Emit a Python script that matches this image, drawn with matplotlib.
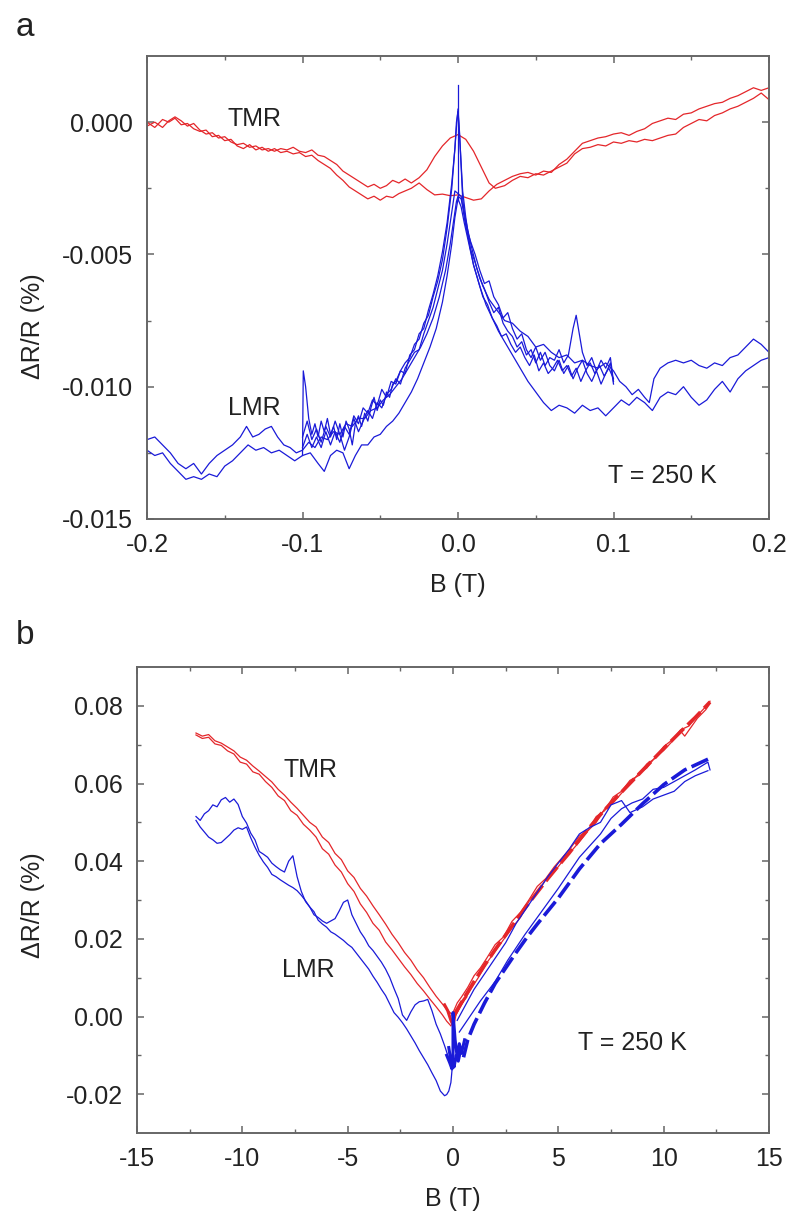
import matplotlib
matplotlib.use("Agg")
import matplotlib.pyplot as plt
from matplotlib.ticker import MultipleLocator, FixedLocator, FormatStrFormatter
import numpy as np

plt.rcParams['font.family'] = ['Liberation Sans', 'DejaVu Sans']
plt.rcParams['axes.unicode_minus'] = False

# ---------------- Panel a data (B in T, dR/R in units of 1e-3 %) ----------------
tmr_a_b = [-0.200, -0.195, -0.190, -0.186, -0.182, -0.178, -0.174, -0.170, -0.166, -0.162,
           -0.158, -0.154, -0.150, -0.146, -0.142, -0.138, -0.134, -0.130, -0.126, -0.122,
           -0.118, -0.114, -0.110, -0.106, -0.102, -0.098, -0.094, -0.090, -0.086, -0.082,
           -0.078, -0.074, -0.070, -0.066, -0.062, -0.058, -0.054, -0.050, -0.046, -0.042,
           -0.038, -0.034, -0.030, -0.025, -0.020, -0.015, -0.010, -0.005, 0.000, 0.005,
           0.010, 0.015, 0.020, 0.024, 0.030, 0.035, 0.040, 0.045, 0.050, 0.055,
           0.060, 0.065, 0.070, 0.075, 0.080, 0.085, 0.090, 0.095, 0.100, 0.105,
           0.110, 0.115, 0.120, 0.125, 0.130, 0.135, 0.140, 0.145, 0.150, 0.155,
           0.160, 0.165, 0.170, 0.175, 0.180, 0.185, 0.190, 0.195, 0.200]
tmr_a_milli = [-0.15, 0.0, -0.2, 0.05, 0.2, 0.05, -0.15, -0.05, -0.3, -0.45,
               -0.4, -0.6, -0.55, -0.75, -0.85, -0.8, -0.95, -0.9, -1.05, -1.0,
               -1.1, -1.0, -1.05, -0.95, -1.1, -1.15, -1.05, -1.25, -1.3, -1.45,
               -1.6, -1.85, -2.0, -2.15, -2.3, -2.45, -2.35, -2.5, -2.4, -2.2,
               -2.3, -2.15, -2.3, -2.1, -1.8, -1.3, -0.9, -0.6, -0.47, -0.65,
               -1.1, -1.7, -2.3, -2.5, -2.4, -2.2, -2.05, -2.1, -1.95, -2.0,
               -1.85, -1.7, -1.55, -1.2, -1.0, -0.95, -0.85, -0.9, -0.75, -0.8,
               -0.7, -0.75, -0.65, -0.7, -0.6, -0.5, -0.45, -0.2, -0.05, 0.1,
               0.05, 0.25, 0.35, 0.5, 0.6, 0.75, 0.9, 1.1, 0.85]

tmr_b_b = [-0.200, -0.195, -0.190, -0.186, -0.182, -0.178, -0.174, -0.170, -0.166, -0.162,
           -0.158, -0.154, -0.150, -0.146, -0.142, -0.138, -0.134, -0.130, -0.126, -0.122,
           -0.118, -0.114, -0.110, -0.106, -0.102, -0.098, -0.094, -0.090, -0.086, -0.082,
           -0.078, -0.074, -0.070, -0.066, -0.062, -0.058, -0.054, -0.050, -0.046, -0.042,
           -0.038, -0.034, -0.030, -0.025, -0.020, -0.015, -0.010, -0.005, 0.000, 0.005,
           0.010, 0.015, 0.020, 0.025, 0.030, 0.035, 0.040, 0.045, 0.050, 0.055,
           0.060, 0.065, 0.070, 0.075, 0.080, 0.085, 0.090, 0.095, 0.100, 0.105,
           0.110, 0.115, 0.120, 0.125, 0.130, 0.135, 0.140, 0.145, 0.150, 0.155,
           0.160, 0.165, 0.170, 0.175, 0.180, 0.185, 0.190, 0.195, 0.200]
tmr_b_milli = [0.0, -0.2, 0.1, 0.0, 0.15, -0.1, -0.05, -0.25, -0.35, -0.3,
               -0.55, -0.5, -0.7, -0.65, -0.9, -1.0, -0.85, -1.05, -0.95, -1.1,
               -1.0, -1.15, -1.1, -1.2, -1.15, -1.3, -1.25, -1.45, -1.6, -1.75,
               -2.0, -2.2, -2.45, -2.6, -2.75, -2.9, -2.8, -2.95, -2.8, -2.85,
               -2.7, -2.6, -2.5, -2.3, -2.55, -2.75, -2.72, -2.78, -2.75, -2.85,
               -2.95, -2.9, -2.6, -2.35, -2.2, -2.05, -1.95, -1.9, -2.0, -1.85,
               -1.9, -1.6, -1.4, -1.1, -0.8, -0.7, -0.6, -0.55, -0.45, -0.4,
               -0.5, -0.35, -0.25, -0.05, 0.05, 0.15, 0.1, 0.3, 0.35, 0.5,
               0.6, 0.7, 0.75, 0.9, 1.0, 1.15, 1.3, 1.2, 1.3]

lmr_long1_b = [-0.200, -0.195, -0.190, -0.185, -0.180, -0.175, -0.170, -0.165, -0.160, -0.155,
               -0.150, -0.145, -0.140, -0.136, -0.132, -0.128, -0.124, -0.120, -0.116, -0.112,
               -0.108, -0.104, -0.100, -0.096, -0.092, -0.088, -0.084, -0.080, -0.076, -0.072,
               -0.068, -0.064, -0.060, -0.056, -0.052, -0.048, -0.044, -0.040, -0.036, -0.032,
               -0.028, -0.024, -0.020, -0.016, -0.012, -0.008, -0.005, -0.003, -0.001, 0.000,
               0.002, 0.004, 0.006, 0.009, 0.012, 0.016, 0.020, 0.025, 0.030, 0.035,
               0.040, 0.045, 0.050, 0.055, 0.060, 0.065, 0.070, 0.075, 0.080, 0.085,
               0.090, 0.095, 0.100, 0.104, 0.108, 0.112, 0.116, 0.120, 0.123, 0.126,
               0.130, 0.135, 0.140, 0.145, 0.150, 0.155, 0.160, 0.165, 0.170, 0.175,
               0.180, 0.185, 0.190, 0.195, 0.200]
lmr_long1_milli = [-12.0, -11.9, -12.2, -12.5, -12.9, -13.1, -12.9, -13.3, -12.9, -12.6,
                   -12.4, -12.2, -11.9, -11.5, -11.9, -11.8, -11.6, -11.5, -11.9, -12.2,
                   -12.3, -12.5, -12.4, -12.1, -12.3, -11.9, -12.0, -11.7, -11.8, -11.4,
                   -11.5, -11.2, -11.2, -10.9, -10.8, -10.5, -10.3, -10.0, -9.7, -9.3,
                   -8.9, -8.5, -8.0, -7.4, -6.6, -5.6, -4.6, -3.8, -3.0, -2.8,
                   -2.9, -3.4, -4.0, -4.8, -5.5, -6.2, -6.7, -7.1, -7.5, -7.6,
                   -7.9, -8.1, -8.5, -8.4, -8.7, -8.9, -8.8, -9.1, -9.0, -9.2,
                   -9.3, -9.1, -9.4, -9.8, -10.0, -10.3, -10.1, -10.4, -10.6, -9.7,
                   -9.3, -9.1, -9.0, -9.1, -9.0, -9.2, -9.3, -9.1, -9.2, -8.9,
                   -8.8, -8.5, -8.2, -8.4, -8.7]

lmr_long2_b = [-0.200, -0.195, -0.190, -0.185, -0.180, -0.175, -0.170, -0.165, -0.160, -0.155,
               -0.150, -0.145, -0.140, -0.135, -0.130, -0.125, -0.120, -0.115, -0.110, -0.105,
               -0.100, -0.095, -0.090, -0.086, -0.082, -0.078, -0.074, -0.070, -0.066, -0.062,
               -0.058, -0.054, -0.050, -0.046, -0.042, -0.038, -0.034, -0.030, -0.026, -0.022,
               -0.018, -0.014, -0.010, -0.007, -0.004, -0.002, 0.000, 0.002, 0.004, 0.007,
               0.010, 0.014, 0.018, 0.022, 0.026, 0.030, 0.035, 0.040, 0.045, 0.050,
               0.055, 0.060, 0.065, 0.070, 0.075, 0.080, 0.085, 0.090, 0.095, 0.100,
               0.105, 0.110, 0.115, 0.120, 0.125, 0.130, 0.135, 0.140, 0.145, 0.150,
               0.155, 0.160, 0.165, 0.170, 0.175, 0.180, 0.185, 0.190, 0.195, 0.200]
lmr_long2_milli = [-12.4, -12.6, -12.5, -12.9, -13.2, -13.5, -13.4, -13.5, -13.3, -13.4,
                   -13.0, -12.8, -12.5, -12.2, -12.4, -12.3, -12.5, -12.4, -12.6, -12.8,
                   -12.6, -12.5, -12.9, -13.2, -12.6, -12.4, -12.5, -13.1, -12.6, -12.2,
                   -12.2, -11.9, -11.8, -11.5, -11.3, -11.0, -10.6, -10.2, -9.7, -9.1,
                   -8.5, -7.8, -6.8, -5.8, -4.6, -3.6, -2.9, -3.2, -3.8, -4.6,
                   -5.4, -6.2, -6.9, -7.4, -7.9, -8.3, -8.8, -9.3, -9.8, -10.2,
                   -10.6, -10.9, -10.7, -10.8, -11.0, -10.7, -10.9, -10.8, -11.1, -10.8,
                   -10.5, -10.7, -10.4, -10.6, -10.9, -10.4, -10.2, -10.3, -10.0, -10.4,
                   -10.7, -10.5, -10.1, -9.8, -10.2, -9.7, -9.4, -9.2, -9.0, -8.9]

lmr_short1_b = [-0.100, -0.0995, -0.098, -0.096, -0.094, -0.092, -0.090, -0.088, -0.086, -0.084,
                -0.082, -0.080, -0.078, -0.076, -0.074, -0.072, -0.070, -0.068, -0.066, -0.064,
                -0.062, -0.060, -0.058, -0.056, -0.054, -0.052, -0.050, -0.048, -0.046, -0.044,
                -0.042, -0.040, -0.037, -0.034, -0.031, -0.028, -0.025, -0.022, -0.019, -0.016,
                -0.013, -0.010, -0.007, -0.004, -0.002, -0.001, 0.000, 0.001, 0.003, 0.005,
                0.008, 0.011, 0.014, 0.017, 0.020, 0.023, 0.026, 0.029, 0.032, 0.035,
                0.038, 0.041, 0.044, 0.047, 0.050, 0.053, 0.056, 0.059, 0.062, 0.065,
                0.068, 0.071, 0.074, 0.076, 0.078, 0.080, 0.083, 0.086, 0.089, 0.092,
                0.095, 0.098, 0.100]
lmr_short1_milli = [-12.6, -9.4, -10.0, -11.2, -11.8, -11.4, -11.9, -11.3, -11.7, -11.2,
                    -11.8, -11.5, -12.0, -11.4, -11.9, -11.3, -11.6, -12.2, -11.4, -11.1,
                    -11.5, -11.0, -11.3, -10.8, -10.4, -10.9, -10.5, -10.7, -10.2, -10.4,
                    -9.9, -9.8, -9.4, -9.1, -8.9, -8.4, -8.2, -7.6, -7.3, -6.6,
                    -6.0, -5.2, -4.0, -2.5, -1.0, 0.0, 0.4, -0.5, -2.6, -3.6,
                    -4.8, -5.3, -5.9, -6.3, -6.8, -7.2, -7.0, -7.6, -7.9, -8.1,
                    -8.5, -8.3, -8.8, -8.6, -9.1, -8.7, -9.2, -8.9, -9.0, -8.6,
                    -9.1, -8.8, -7.8, -7.3, -8.0, -8.7, -9.2, -8.9, -9.4, -9.0,
                    -9.3, -8.9, -9.8]

lmr_short2_b = [-0.100, -0.097, -0.094, -0.091, -0.088, -0.085, -0.082, -0.079, -0.076, -0.073,
                -0.070, -0.067, -0.064, -0.061, -0.058, -0.055, -0.052, -0.049, -0.046, -0.043,
                -0.040, -0.037, -0.034, -0.031, -0.028, -0.025, -0.022, -0.019, -0.016, -0.013,
                -0.010, -0.007, -0.004, -0.002, 0.000, 0.002, 0.004, 0.007, 0.010, 0.013,
                0.016, 0.019, 0.022, 0.025, 0.028, 0.031, 0.034, 0.037, 0.040, 0.043,
                0.046, 0.049, 0.052, 0.055, 0.058, 0.061, 0.064, 0.067, 0.070, 0.073,
                0.076, 0.079, 0.082, 0.085, 0.088, 0.091, 0.094, 0.097, 0.100]
lmr_short2_milli = [-11.9, -11.3, -12.0, -11.6, -12.1, -11.5, -11.9, -11.3, -11.8, -12.4,
                    -11.9, -11.2, -11.7, -11.3, -10.9, -11.2, -10.6, -10.8, -10.3, -10.1,
                    -9.7, -9.9, -9.3, -9.0, -8.7, -8.6, -8.0, -7.5, -7.0, -6.3,
                    -5.6, -4.6, -3.4, -2.6, -2.7, -2.8, -3.6, -4.5, -5.4, -6.0,
                    -6.6, -6.9, -7.4, -7.7, -8.1, -8.0, -8.4, -8.7, -8.5, -8.9,
                    -9.2, -8.8, -9.4, -9.1, -9.5, -9.3, -9.0, -9.4, -9.2, -9.6,
                    -9.3, -9.8, -9.4, -9.1, -9.5, -9.2, -9.6, -9.3, -9.7]

lmr_short3_b = [-0.100, -0.097, -0.094, -0.091, -0.088, -0.085, -0.082, -0.079, -0.076, -0.073,
                -0.070, -0.067, -0.064, -0.061, -0.058, -0.055, -0.052, -0.049, -0.046, -0.043,
                -0.040, -0.037, -0.034, -0.031, -0.028, -0.025, -0.022, -0.019, -0.016, -0.013,
                -0.010, -0.007, -0.004, -0.002, -0.001, 0.000, 0.001, 0.003, 0.005, 0.008,
                0.011, 0.014, 0.017, 0.020, 0.023, 0.026, 0.029, 0.032, 0.035, 0.038,
                0.041, 0.044, 0.047, 0.050, 0.053, 0.056, 0.059, 0.062, 0.065, 0.068,
                0.071, 0.074, 0.077, 0.080, 0.083, 0.086, 0.089, 0.092, 0.095, 0.098, 0.100]
lmr_short3_milli = [-12.3, -11.8, -12.3, -11.9, -12.3, -11.7, -12.2, -11.7, -12.1, -11.5,
                    -11.8, -11.1, -11.4, -10.8, -11.0, -10.5, -10.7, -10.1, -10.4, -9.8,
                    -9.9, -9.4, -9.5, -8.8, -8.6, -8.0, -7.8, -7.1, -6.5, -5.8,
                    -4.9, -3.8, -2.3, -1.0, -0.2, 0.5, -0.4, -2.9, -3.9, -4.5,
                    -5.0, -5.6, -6.1, -6.0, -6.6, -6.9, -7.4, -7.2, -7.8, -8.2,
                    -8.0, -8.6, -8.9, -8.5, -9.0, -8.7, -9.2, -9.4, -9.0, -9.5,
                    -9.2, -9.7, -9.3, -9.0, -9.5, -9.8, -9.4, -9.9, -9.5, -9.1, -9.9]

lmr_spike_b = [0.0, 0.0]
lmr_spike_milli = [-2.9, 1.4]

# ---------------- Panel b data (B in T, dR/R in %) ----------------
tmr_left1_b = [-12.2, -11.9, -11.6, -11.3, -11.0, -10.7, -10.4, -10.1, -9.8, -9.5,
               -9.2, -8.9, -8.6, -8.3, -8.0, -7.7, -7.4, -7.1, -6.8, -6.5,
               -6.2, -5.9, -5.6, -5.3, -5.0, -4.7, -4.4, -4.1, -3.8, -3.5,
               -3.2, -2.9, -2.6, -2.3, -2.0, -1.7, -1.4, -1.1, -0.8, -0.5, -0.3, -0.1]
tmr_left1_v = [0.0725, 0.0716, 0.0719, 0.0702, 0.0698, 0.0684, 0.0676, 0.0655, 0.0650, 0.0630,
               0.0624, 0.0605, 0.0590, 0.0568, 0.0556, 0.0530, 0.0518, 0.0495, 0.0480, 0.0462,
               0.0432, 0.0418, 0.0390, 0.0372, 0.0342, 0.0322, 0.0290, 0.0268, 0.0240, 0.0222,
               0.0192, 0.0172, 0.0150, 0.0128, 0.0108, 0.0085, 0.0066, 0.0045, 0.0025, 0.0004,
               -0.0012, -0.0024]
tmr_left2_b = [-12.2, -11.9, -11.6, -11.3, -11.0, -10.7, -10.4, -10.1, -9.8, -9.5,
               -9.2, -8.9, -8.6, -8.3, -8.0, -7.7, -7.4, -7.1, -6.8, -6.5,
               -6.2, -5.9, -5.6, -5.3, -5.0, -4.7, -4.4, -4.1, -3.8, -3.5,
               -3.2, -2.9, -2.6, -2.3, -2.0, -1.7, -1.4, -1.1, -0.8, -0.5, -0.3, -0.1]
tmr_left2_v = [0.0730, 0.0722, 0.0726, 0.0710, 0.0704, 0.0694, 0.0684, 0.0668, 0.0660, 0.0645,
               0.0632, 0.0618, 0.0604, 0.0585, 0.0570, 0.0552, 0.0536, 0.0518, 0.0500, 0.0488,
               0.0462, 0.0448, 0.0420, 0.0404, 0.0375, 0.0358, 0.0330, 0.0310, 0.0285, 0.0262,
               0.0238, 0.0212, 0.0190, 0.0165, 0.0145, 0.0120, 0.0100, 0.0075, 0.0052, 0.0032,
               0.0018, 0.0008]
tmr_tip_b = [-0.4, -0.25, -0.1, 0.0, 0.1, 0.25, 0.4, 0.6]
tmr_tip_v = [0.0030, 0.0015, -0.0010, -0.0022, 0.0005, 0.0020, 0.0035, 0.0050]
tmr_right1_b = [0.0, 0.2, 0.4, 0.7, 1.0, 1.3, 1.6, 2.0, 2.4, 2.8, 3.2, 3.6, 4.0, 4.4, 4.8,
                5.2, 5.6, 6.0, 6.4, 6.8, 7.2, 7.6, 8.0, 8.4, 8.8, 9.2, 9.6, 10.0, 10.4,
                10.8, 11.2, 11.6, 12.0, 12.2]
tmr_right1_v = [0.0010, 0.0035, 0.0050, 0.0075, 0.0105, 0.0125, 0.0150, 0.0185, 0.0205, 0.0245,
                0.0268, 0.0300, 0.0335, 0.0355, 0.0385, 0.0410, 0.0435, 0.0465, 0.0480, 0.0515,
                0.0530, 0.0565, 0.0580, 0.0608, 0.0620, 0.0650, 0.0665, 0.0695, 0.0712, 0.0738,
                0.0748, 0.0775, 0.0798, 0.0812]
tmr_right2_b = [0.0, 0.3, 0.6, 0.9, 1.2, 1.6, 2.0, 2.4, 2.8, 3.2, 3.6, 4.0, 4.4, 4.8, 5.2,
                5.6, 6.0, 6.4, 6.8, 7.2, 7.6, 8.0, 8.4, 8.8, 9.2, 9.6, 10.0, 10.4, 10.8,
                11.0, 11.3, 11.6, 12.0, 12.2]
tmr_right2_v = [-0.0010, 0.0020, 0.0048, 0.0075, 0.0100, 0.0138, 0.0168, 0.0198, 0.0228, 0.0255,
                0.0296, 0.0318, 0.0352, 0.0372, 0.0400, 0.0425, 0.0450, 0.0478, 0.0500, 0.0535,
                0.0550, 0.0575, 0.0598, 0.0625, 0.0640, 0.0668, 0.0685, 0.0708, 0.0735, 0.0722,
                0.0745, 0.0768, 0.0790, 0.0806]
tmr_fit_b = [0.0, 0.5, 1.0, 1.5, 2.0, 2.5, 3.0, 3.5, 4.0, 4.5, 5.0, 5.5, 6.0, 6.5, 7.0,
             7.5, 8.0, 8.5, 9.0, 9.5, 10.0, 10.5, 11.0, 11.5, 12.2]
tmr_fit_v = [0.0000, 0.0045, 0.0090, 0.0132, 0.0172, 0.0210, 0.0248, 0.0285, 0.0320, 0.0355,
             0.0388, 0.0420, 0.0455, 0.0488, 0.0520, 0.0550, 0.0578, 0.0606, 0.0634, 0.0662,
             0.0690, 0.0717, 0.0744, 0.0770, 0.0810]

lmr_left1_b = [-12.2, -12.0, -11.8, -11.6, -11.4, -11.2, -11.0, -10.8, -10.6, -10.4,
               -10.2, -10.0, -9.8, -9.6, -9.4, -9.2, -9.0, -8.8, -8.6, -8.4,
               -8.2, -8.0, -7.8, -7.6, -7.4, -7.2, -7.0, -6.8, -6.6, -6.4,
               -6.2, -6.0, -5.8, -5.6, -5.4, -5.2, -5.0, -4.8, -4.6, -4.4,
               -4.2, -4.0, -3.8, -3.6, -3.4, -3.2, -3.0, -2.8, -2.6, -2.4,
               -2.2, -2.0, -1.8, -1.6, -1.4, -1.2, -1.0, -0.8, -0.6, -0.4, -0.2, 0.0]
lmr_left1_v = [0.0515, 0.0505, 0.0522, 0.0530, 0.0545, 0.0540, 0.0558, 0.0564, 0.0552, 0.0560,
               0.0546, 0.0515, 0.0498, 0.0472, 0.0455, 0.0425, 0.0418, 0.0410, 0.0395, 0.0386,
               0.0378, 0.0372, 0.0400, 0.0414, 0.0360, 0.0322, 0.0296, 0.0282, 0.0262, 0.0255,
               0.0246, 0.0240, 0.0246, 0.0252, 0.0272, 0.0294, 0.0300, 0.0262, 0.0240, 0.0218,
               0.0202, 0.0182, 0.0170, 0.0155, 0.0140, 0.0122, 0.0100, 0.0072, 0.0046, 0.0004,
               -0.0010, 0.0012, 0.0030, 0.0038, 0.0040, 0.0044, 0.0015, -0.0020, -0.0045, -0.0075,
               -0.0108, -0.0125]
lmr_left2_b = [-12.2, -12.0, -11.8, -11.6, -11.4, -11.2, -11.0, -10.8, -10.6, -10.4,
               -10.2, -10.0, -9.8, -9.6, -9.4, -9.2, -9.0, -8.8, -8.6, -8.4,
               -8.2, -8.0, -7.8, -7.6, -7.4, -7.2, -7.0, -6.8, -6.6, -6.4,
               -6.2, -6.0, -5.8, -5.6, -5.4, -5.2, -5.0, -4.8, -4.6, -4.4,
               -4.2, -4.0, -3.8, -3.6, -3.4, -3.2, -3.0, -2.8, -2.6, -2.4,
               -2.2, -2.0, -1.8, -1.6, -1.4, -1.2, -1.0, -0.8, -0.6, -0.4,
               -0.3, -0.2, -0.1, 0.0]
lmr_left2_v = [0.0505, 0.0488, 0.0475, 0.0462, 0.0455, 0.0446, 0.0448, 0.0458, 0.0468, 0.0480,
               0.0486, 0.0482, 0.0488, 0.0460, 0.0436, 0.0415, 0.0398, 0.0384, 0.0366, 0.0360,
               0.0352, 0.0345, 0.0338, 0.0332, 0.0324, 0.0312, 0.0298, 0.0282, 0.0270, 0.0248,
               0.0238, 0.0230, 0.0218, 0.0212, 0.0204, 0.0196, 0.0186, 0.0178, 0.0164, 0.0150,
               0.0136, 0.0122, 0.0104, 0.0088, 0.0070, 0.0054, 0.0032, 0.0010, -0.0002, -0.0016,
               -0.0032, -0.0050, -0.0068, -0.0088, -0.0106, -0.0124, -0.0145, -0.0165, -0.0192, -0.0204,
               -0.0201, -0.0192, -0.0170, -0.0110]
lmr_tip1_b = [-0.3, -0.15, -0.05, 0.0, 0.05, 0.15, 0.25, 0.35, 0.5]
lmr_tip1_v = [-0.0100, -0.0120, -0.0135, -0.0110, -0.0130, -0.0100, -0.0115, -0.0090, -0.0095]
lmr_tip2_b = [-0.2, -0.1, 0.0, 0.0, 0.1, 0.2, 0.3, 0.4, 0.55]
lmr_tip2_v = [-0.0080, -0.0115, -0.0130, 0.0010, -0.0060, -0.0105, -0.0070, -0.0095, -0.0060]
lmr_right1_b = [0.2, 0.6, 1.0, 1.5, 2.0, 2.5, 3.0, 3.5, 4.0, 4.5, 5.0, 5.5, 6.0, 6.5,
                7.0, 7.5, 8.0, 8.4, 9.0, 9.5, 10.0, 10.5, 11.0, 11.5, 12.1]
lmr_right1_v = [-0.0010, 0.0030, 0.0070, 0.0110, 0.0150, 0.0190, 0.0240, 0.0280, 0.0320, 0.0360,
                0.0395, 0.0430, 0.0470, 0.0487, 0.0500, 0.0545, 0.0556, 0.0525, 0.0540, 0.0560,
                0.0570, 0.0580, 0.0605, 0.0620, 0.0633]
lmr_right2_b = [0.3, 0.8, 1.3, 2.0, 2.6, 3.4, 4.2, 5.0, 5.5, 6.0, 6.5, 7.0, 7.5, 8.0,
                8.5, 9.0, 9.5, 10.0, 10.5, 11.0, 11.5, 12.1, 12.2]
lmr_right2_v = [-0.0040, 0.0000, 0.0040, 0.0090, 0.0145, 0.0210, 0.0270, 0.0330, 0.0370, 0.0410,
                0.0440, 0.0470, 0.0510, 0.0535, 0.0550, 0.0560, 0.0585, 0.0590, 0.0605, 0.0620,
                0.0635, 0.0655, 0.0635]
lmr_fit_b = [0.5, 0.7, 1.0, 1.5, 2.0, 2.5, 3.0, 3.5, 4.0, 5.0, 6.0, 7.0, 8.0, 9.0, 10.0, 11.0, 12.2]
lmr_fit_v = [-0.0105, -0.0060, -0.0020, 0.0035, 0.0085, 0.0125, 0.0165, 0.0203, 0.0238, 0.0305,
             0.0380, 0.0445, 0.0495, 0.0548, 0.0597, 0.0635, 0.0665]

# ---------------- figure ----------------
W, H = 790, 1216
fig = plt.figure(figsize=(W / 100, H / 100), dpi=100)


def px_axes(l, t, r, b):
    return [l / W, 1 - b / H, (r - l) / W, (b - t) / H]


RED = '#e4262a'
BLUE = '#1a1ad8'
SPINE = '#666666'
FS = 18

ax1 = fig.add_axes(px_axes(147, 56, 769, 519))
ax2 = fig.add_axes(px_axes(137, 667, 769, 1133))

for ax in (ax1, ax2):
    for s in ax.spines.values():
        s.set_color(SPINE)
        s.set_linewidth(1.4)
    ax.tick_params(which='both', direction='in', top=True, right=True, color=SPINE,
                   labelsize=FS, labelcolor='#222222')
    ax.tick_params(which='major', length=5, width=1.1)
    ax.tick_params(which='minor', length=3, width=1.0)
    ax.tick_params(axis='y', pad=10)
    ax.tick_params(axis='x', pad=10)

m = 1e-3
lw = 0.9
ax1.plot(tmr_a_b, np.array(tmr_a_milli) * m, color=RED, lw=lw)
ax1.plot(tmr_b_b, np.array(tmr_b_milli) * m, color=RED, lw=lw)
for bb, vv in [(lmr_long1_b, lmr_long1_milli), (lmr_long2_b, lmr_long2_milli),
               (lmr_short1_b, lmr_short1_milli), (lmr_short2_b, lmr_short2_milli),
               (lmr_short3_b, lmr_short3_milli), (lmr_spike_b, lmr_spike_milli)]:
    ax1.plot(bb, np.array(vv) * m, color=BLUE, lw=lw)

ax1.set_xlim(-0.2, 0.2)
ax1.set_ylim(-0.015, 0.0025)
ax1.xaxis.set_major_locator(FixedLocator([-0.2, -0.1, 0.0, 0.1, 0.2]))
ax1.xaxis.set_major_formatter(FormatStrFormatter('%.1f'))
ax1.xaxis.set_minor_locator(FixedLocator([-0.15, -0.05, 0.05, 0.15]))
ax1.yaxis.set_major_locator(FixedLocator([-0.015, -0.010, -0.005, 0.0]))
ax1.yaxis.set_major_formatter(FormatStrFormatter('%.3f'))
ax1.yaxis.set_minor_locator(FixedLocator([-0.0125, -0.0075, -0.0025]))

ax2.plot(tmr_left1_b, tmr_left1_v, color=RED, lw=lw)
ax2.plot(tmr_left2_b, tmr_left2_v, color=RED, lw=lw)
ax2.plot(tmr_tip_b, tmr_tip_v, color=RED, lw=2.2)
ax2.plot(tmr_right1_b, tmr_right1_v, color=RED, lw=lw)
ax2.plot(tmr_right2_b, tmr_right2_v, color=RED, lw=lw)
ax2.plot(tmr_fit_b, tmr_fit_v, color=RED, lw=2.6, ls=(0, (5, 1.5)))

ax2.plot(lmr_left1_b, lmr_left1_v, color=BLUE, lw=lw)
ax2.plot(lmr_left2_b, lmr_left2_v, color=BLUE, lw=lw)
ax2.plot(lmr_tip1_b, lmr_tip1_v, color=BLUE, lw=2.2)
ax2.plot(lmr_tip2_b, lmr_tip2_v, color=BLUE, lw=2.2)
ax2.plot(lmr_right1_b, lmr_right1_v, color=BLUE, lw=lw)
ax2.plot(lmr_right2_b, lmr_right2_v, color=BLUE, lw=lw)
ax2.plot(lmr_fit_b, lmr_fit_v, color=BLUE, lw=2.6, ls=(0, (5, 1.5)))

ax2.set_xlim(-15, 15)
ax2.set_ylim(-0.03, 0.09)
ax2.xaxis.set_major_locator(FixedLocator([-15, -10, -5, 0, 5, 10, 15]))
ax2.xaxis.set_major_formatter(FormatStrFormatter('%d'))
ax2.xaxis.set_minor_locator(FixedLocator([-12.5, -7.5, -2.5, 2.5, 7.5, 12.5]))
ax2.yaxis.set_major_locator(FixedLocator([-0.02, 0.0, 0.02, 0.04, 0.06, 0.08]))
ax2.yaxis.set_major_formatter(FormatStrFormatter('%.2f'))
ax2.yaxis.set_minor_locator(FixedLocator([-0.01, 0.01, 0.03, 0.05, 0.07]))


def ftext(x, y, s, **kw):
    fig.text(x / W, 1 - y / H, s, ha='center', va='center', color='#222222', **kw)


ftext(25, 28, 'a', fontsize=24)
ftext(25, 636, 'b', fontsize=24)
ftext(254, 119, 'TMR', fontsize=FS)
ftext(254, 408, 'LMR', fontsize=FS)
ftext(662, 476, 'T = 250 K', fontsize=FS)
ftext(311, 770, 'TMR', fontsize=FS)
ftext(308, 970, 'LMR', fontsize=FS)
ftext(632, 1043, 'T = 250 K', fontsize=FS)
ftext(458, 585, 'B (T)', fontsize=FS)
ftext(453, 1199, 'B (T)', fontsize=FS)
ftext(33, 326, 'ΔR/R (%)', fontsize=FS, rotation=90)
ftext(33, 905, 'ΔR/R (%)', fontsize=FS, rotation=90)

fig.savefig('out.png', dpi=100)
